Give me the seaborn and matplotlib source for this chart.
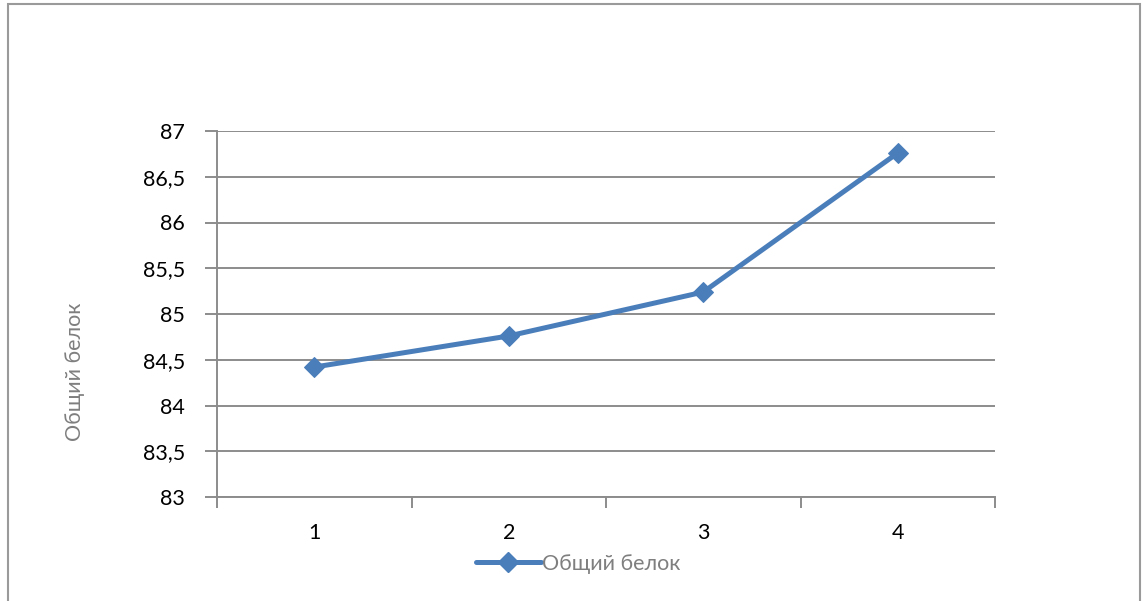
import matplotlib
matplotlib.use("Agg")
import matplotlib.pyplot as plt
import matplotlib.ticker as mticker
from matplotlib.lines import Line2D
from matplotlib.patches import Rectangle
import seaborn as sns
import pandas as pd

# Series data
categories = ["1", "2", "3", "4"]
protein = [84.42, 84.76, 85.24, 86.76]
series_name = "Общий белок"
y_ticks = [83, 83.5, 84, 84.5, 85, 85.5, 86, 86.5, 87]

sns.set_theme(style="white")
plt.rcParams["font.family"] = ["Lato", "DejaVu Sans"]

line_color = "#4a7ebb"
grid_color = "#8c8c8c"
label_gray = "#7f7f7f"
fs = 15.5

df = pd.DataFrame({"pos": range(len(categories)), "value": protein})

fig = plt.figure(figsize=(11.44, 6.01), dpi=100)
ax = fig.add_axes([217 / 1144, 1 - 497 / 601, (995 - 217) / 1144, (497 - 131) / 601])

# Outer chart frame
fig.patches.append(Rectangle((8 / 1144, -0.05), (1140 - 8) / 1144, 1.05 - 4 / 601,
                             transform=fig.transFigure, fill=False,
                             edgecolor="#9a9a9a", linewidth=1.5))

sns.lineplot(data=df, x="pos", y="value", ax=ax, color=line_color, linewidth=3.6,
             marker="D", markersize=10, markeredgecolor=line_color, zorder=3,
             legend=False)

ax.set_xlim(-0.5, len(categories) - 0.5)
ax.set_ylim(y_ticks[0], y_ticks[-1])
ax.set_yticks(y_ticks)
ax.yaxis.set_major_formatter(mticker.FuncFormatter(
    lambda v, p: (f"{v:g}").replace(".", ",")))
ax.yaxis.grid(True, color=grid_color, linewidth=1.4)
ax.set_axisbelow(True)

ax.set_xticks(range(len(categories)))
ax.set_xticklabels(categories)
ax.set_xticks([i - 0.5 for i in range(len(categories) + 1)], minor=True)
ax.tick_params(axis="x", which="major", length=0, pad=19, labelsize=fs, labelcolor="black")
ax.tick_params(axis="x", which="minor", length=8, width=1.4, color=grid_color, direction="out")
ax.tick_params(axis="y", length=9, width=1.4, color=grid_color, direction="out",
               pad=14, labelsize=fs, labelcolor="black")
ax.tick_params(bottom=True, left=True, which="both")

for side in ["top", "right"]:
    ax.spines[side].set_visible(False)
for side in ["left", "bottom"]:
    ax.spines[side].set_color(grid_color)
    ax.spines[side].set_linewidth(1.4)

ax.set_xlabel("")
ax.set_ylabel("")
fig.text(75 / 1144, 1 - 372 / 601, series_name, rotation=90, ha="center", va="center",
         fontsize=fs, color=label_gray)

handle = Line2D([], [], color=line_color, linewidth=3.6, marker="D", markersize=10)
fig.legend([handle], [series_name], loc="center", bbox_to_anchor=(578 / 1144, 1 - 564 / 601),
           frameon=False, fontsize=fs, labelcolor=label_gray, handlelength=3.0,
           handletextpad=0.05)

fig.savefig("out.png", dpi=100)
